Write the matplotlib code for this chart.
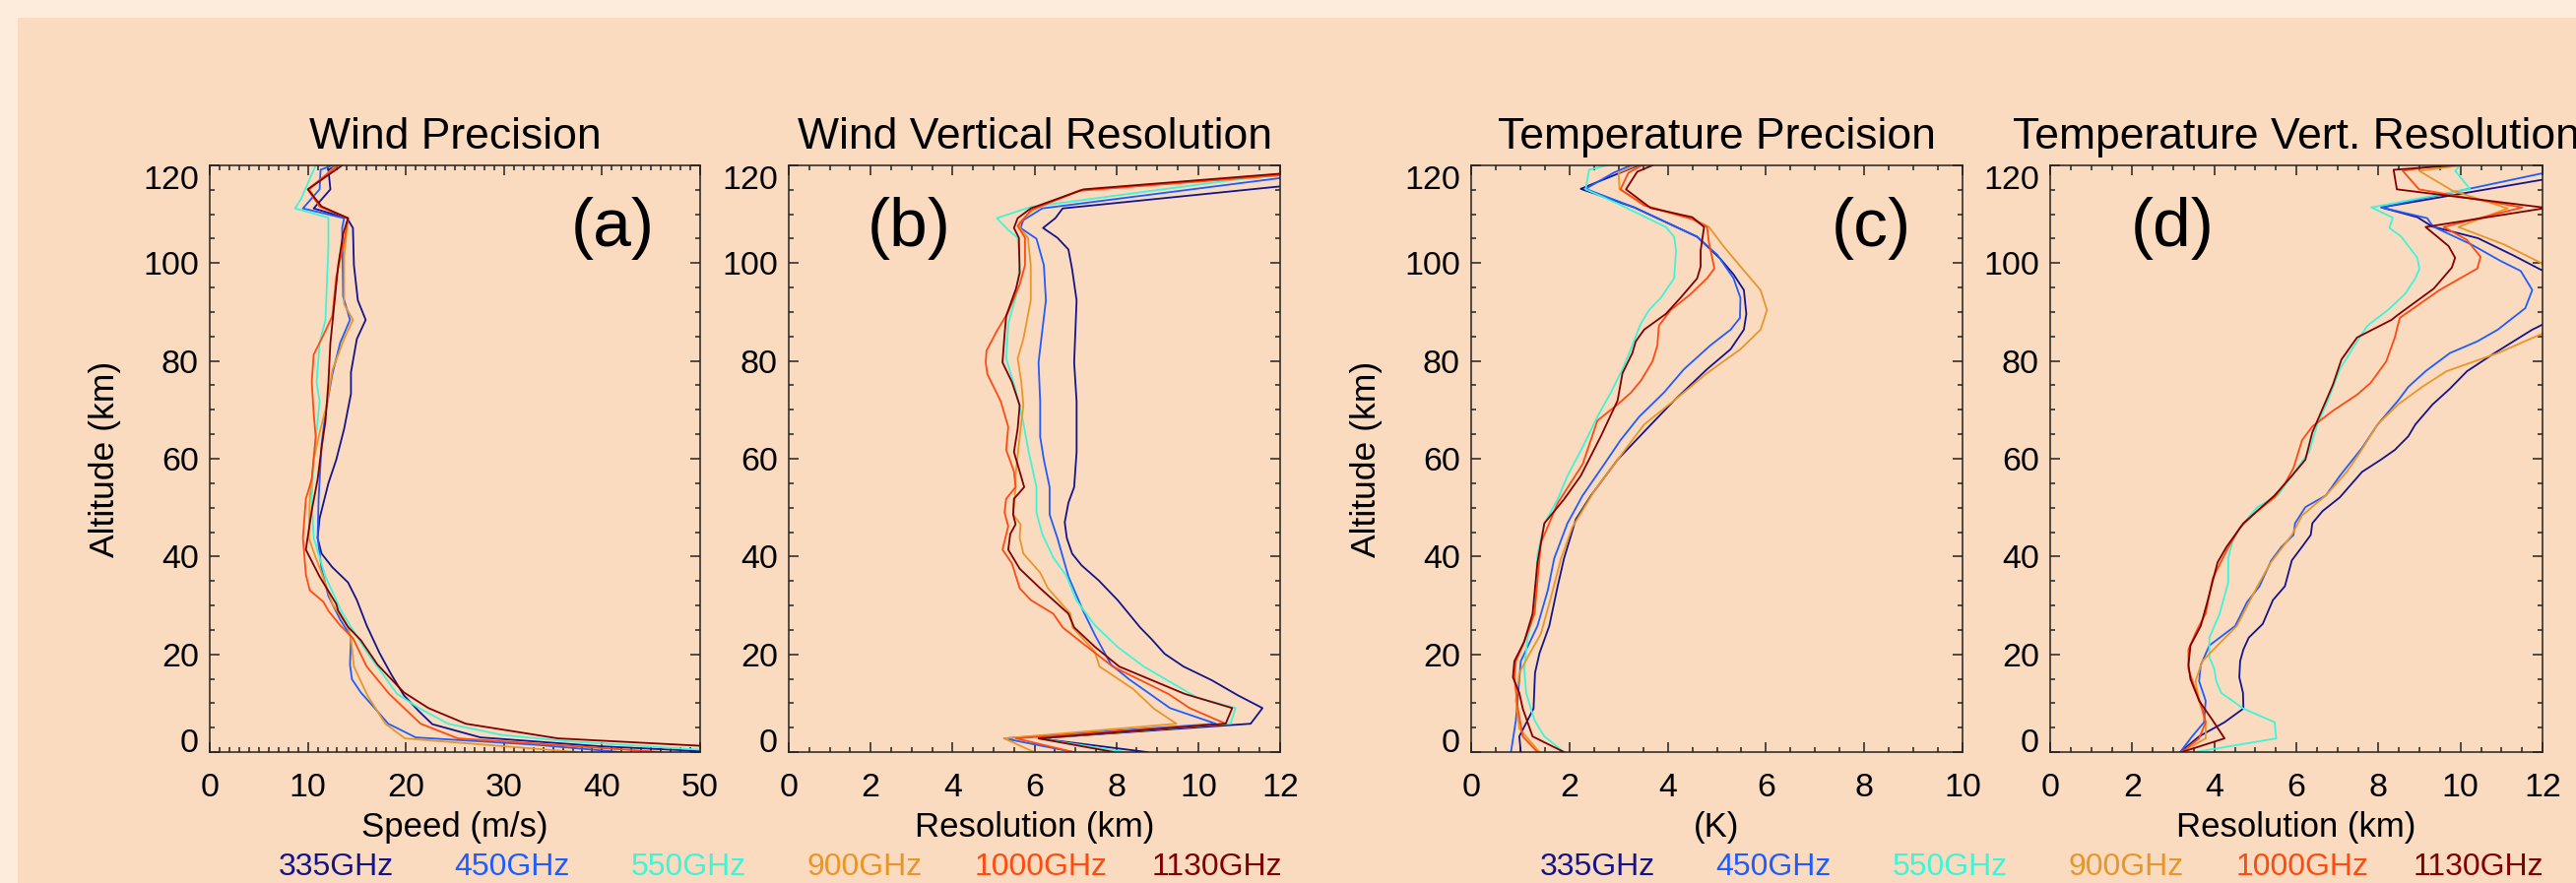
import matplotlib
matplotlib.use('Agg')
import matplotlib.pyplot as plt
from matplotlib.patches import Rectangle
from matplotlib.ticker import MultipleLocator

plt.rcParams['font.family'] = ['Liberation Sans', 'DejaVu Sans']

freqs = ['335GHz', '450GHz', '550GHz', '900GHz', '1000GHz', '1130GHz']
colors = ['#14148a', '#1f5cff', '#3ff5d8', '#e8962a', '#ff4a10', '#800000']

# (value, altitude km) pairs

# (a) wind precision, m/s
wp_335 = [(50, 0.2), (39.7, 1.2), (27.6, 3.0), (22.7, 5.7), (21.3, 8.4), (19.8, 11.6), (18.5, 15.9),
          (17.3, 20.3), (16.0, 25.9), (15.0, 31.1), (14.1, 34.7), (12.5, 37.8), (11.4, 40.6), (11.0, 43.8),
          (11.2, 47.8), (12.1, 55.0), (12.9, 59.8), (13.7, 66.1), (14.4, 73.3), (14.4, 77.7), (15.0, 84.5),
          (15.9, 88.4), (15.1, 92.4), (14.7, 99.6), (14.6, 107.2), (14.0, 109.2), (10.6, 111.2),
          (12.3, 115.1), (12.1, 119.1), (13.0, 120)]
wp_450 = [(41.9, 0), (33.2, 1.5), (21.0, 3.0), (18.2, 5.8), (16.9, 8.8), (15.4, 12.2), (14.5, 14.9),
          (14.3, 17.9), (14.4, 23.6), (13.3, 27.1), (12.1, 31.9), (11.4, 37.5), (11.0, 43.8), (11.1, 51.8),
          (11.4, 62.9), (11.8, 69.3), (12.5, 77.3), (13.3, 83.7), (14.3, 88.4), (13.6, 93.2), (13.5, 107.2),
          (13.7, 109.2), (9.5, 111.2), (11.2, 115.1), (11.3, 119.1), (12.5, 120)]
wp_550 = [(55, 0), (49.9, 0.5), (36.5, 2.2), (29.8, 3.5), (24.3, 5.8), (21.5, 8.8), (19.1, 11.9),
          (17.8, 15.5), (16.1, 20.2), (14.4, 25.6), (13.4, 28.9), (12.9, 31.1), (11.8, 35.9), (11.2, 39.8),
          (10.6, 43.8), (10.4, 51.8), (10.6, 59.8), (11.0, 67.7), (11.2, 71.7), (10.9, 75.7), (11.2, 83.7),
          (11.8, 88.4), (12.1, 103.6), (12.1, 109.3), (8.7, 111.2), (9.3, 113.1), (10.8, 120)]
wp_900 = [(37.5, 0), (19.9, 2.8), (17.9, 5.8), (16.1, 11.5), (14.7, 17.5), (14.4, 23.3), (14.1, 25.5),
          (12.5, 30.3), (11.4, 36.7), (10.8, 39.8), (10.1, 43.8), (10.2, 51.8), (10.6, 59.8), (11.2, 65.3),
          (12.0, 71.7), (12.5, 78.1), (13.7, 84.5), (14.6, 88.4), (13.7, 91.6), (13.7, 101.2), (14.1, 109.2),
          (11.2, 111.6), (10.2, 115.1), (12.9, 120)]
wp_1000 = [(46.1, 0), (25.3, 2.8), (21.5, 5.8), (18.3, 11.9), (16.0, 17.5), (14.6, 23.3), (13.3, 25.9),
           (12.1, 28.9), (11.6, 30.7), (10.2, 33.1), (9.8, 36.3), (9.5, 43.8), (9.8, 51.8), (10.4, 55.8),
           (10.8, 64.5), (10.6, 69.3), (10.4, 75.7), (10.6, 81.3), (11.6, 85.3), (12.5, 89.2), (12.9, 97.2),
           (13.7, 104.4), (14.1, 109.2), (11.2, 111.6), (10.0, 115.1), (13.1, 120)]
wp_1130 = [(60, 0), (49.9, 1.3), (35.5, 2.8), (26.1, 5.8), (22.3, 9.0), (19.8, 12.2), (17.1, 17.9),
           (15.4, 22.9), (14.1, 25.6), (13.1, 28.9), (12.9, 30.3), (11.2, 35.9), (9.8, 41.4), (10.4, 49.4),
           (11.0, 55.8), (11.4, 62.2), (11.8, 67.7), (12.1, 75.7), (12.3, 83.7), (12.7, 91.6), (13.1, 99.6),
           (13.6, 106.0), (14.1, 109.2), (11.4, 111.6), (10.0, 115.1), (13.5, 120)]

# (b) wind vertical resolution, km
wr_335 = [(8.75, 0), (6.1, 2.8), (11.28, 5.8), (11.57, 9.0), (10.97, 11.6), (10.33, 14.7), (9.64, 17.5),
          (9.18, 20.1), (8.86, 23.1), (8.58, 25.5), (8.03, 31.1), (7.57, 35.1), (7.15, 38.2), (6.92, 40.6),
          (6.79, 43.8), (6.74, 47.0), (6.83, 51.0), (6.97, 54.2), (7.03, 61.4), (7.03, 71.7), (6.97, 79.7),
          (7.03, 92.4), (6.92, 98.8), (6.83, 102.8), (6.56, 105.2), (6.21, 107.2), (6.51, 109.2),
          (6.69, 111.2), (12.0, 115.7), (13.0, 116.5)]
wr_450 = [(6.95, 0), (5.26, 2.8), (10.43, 5.8), (9.31, 9.0), (8.31, 14.9), (7.87, 17.9), (7.48, 23.9),
          (7.20, 28.7), (6.83, 35.9), (6.56, 43.8), (6.37, 48.6), (6.37, 54.2), (6.23, 59.8), (6.14, 64.5),
          (6.14, 71.7), (6.10, 79.7), (6.19, 86.1), (6.28, 92.4), (6.23, 99.6), (6.05, 105.0), (5.66, 107.2),
          (5.73, 108.8), (6.19, 111.2), (12.0, 117.4), (13.0, 118.4)]
wr_550 = [(8.23, 0), (6.1, 2.8), (10.79, 5.8), (10.91, 9.0), (9.96, 11.2), (8.67, 17.5), (8.03, 21.5),
          (7.48, 25.9), (7.02, 31.1), (6.79, 35.9), (6.46, 39.8), (6.19, 44.6), (6.05, 49.0), (6.05, 54.2),
          (5.86, 61.4), (5.72, 67.7), (5.54, 74.1), (5.31, 80.5), (5.36, 87.6), (5.55, 93.2), (5.64, 99.6),
          (5.59, 105.2), (5.36, 106.8), (5.08, 109.2), (5.91, 111.5), (12.0, 118.3), (13.0, 119.3)]
wr_900 = [(5.99, 0), (5.26, 2.8), (9.47, 5.8), (8.93, 8.8), (8.41, 12.9), (7.59, 17.5), (7.47, 20.6),
          (6.93, 25.5), (6.88, 28.3), (6.33, 33.5), (6.14, 36.7), (5.73, 40.6), (5.64, 43.8), (5.66, 46.6),
          (5.48, 48.6), (5.54, 54.2), (5.54, 56.6), (5.64, 64.5), (5.73, 70.9), (5.68, 75.7), (5.59, 80.5),
          (5.73, 84.5), (5.91, 92.4), (5.91, 99.6), (5.84, 105.2), (5.64, 107.2), (5.64, 108.4),
          (6.0, 111.2), (7.1, 114.9), (12.0, 118.0), (13.0, 119.0)]
wr_1000 = [(6.95, 0), (5.55, 2.8), (10.67, 5.8), (9.79, 9.0), (9.27, 11.9), (7.91, 17.5), (7.11, 22.7),
           (6.69, 25.5), (6.46, 28.3), (5.91, 31.1), (5.64, 33.5), (5.45, 38.6), (5.22, 41.4), (5.36, 46.2),
           (5.27, 49.0), (5.31, 51.8), (5.54, 54.2), (5.50, 57.4), (5.31, 61.8), (5.36, 66.5), (5.18, 71.7),
           (4.85, 77.3), (4.81, 79.7), (4.83, 82.1), (5.08, 86.1), (5.36, 90.0), (5.64, 95.6), (5.77, 99.6),
           (5.77, 105.2), (5.59, 107.6), (5.91, 110.8), (7.1, 114.8), (12.0, 118.0), (13.0, 119.0)]
wr_1130 = [(7.94, 0), (6.1, 2.8), (10.67, 5.8), (10.83, 9.0), (9.67, 11.9), (8.07, 17.5), (7.48, 21.5),
           (6.97, 25.5), (6.83, 28.3), (6.14, 33.5), (5.64, 37.5), (5.36, 41.4), (5.41, 44.6), (5.54, 46.6),
           (5.48, 48.6), (5.50, 51.8), (5.75, 54.2), (5.50, 61.4), (5.59, 66.1), (5.64, 70.9), (5.45, 75.7),
           (5.22, 79.7), (5.27, 85.3), (5.31, 89.2), (5.55, 94.8), (5.64, 98.0), (5.62, 105.2), (5.50, 107.2),
           (5.59, 109.2), (5.91, 111.2), (7.2, 115.1), (12.0, 118.3), (13.0, 119.3)]

# (c) temperature precision, K
tp_335 = [(1.01, 0), (0.98, 3.2), (1.27, 8.9), (1.30, 16.2), (1.39, 20.2), (1.59, 25.8), (1.76, 33.9),
          (1.89, 39.6), (2.13, 47.6), (2.44, 52.5), (2.98, 59.8), (3.66, 67.0), (4.13, 71.9), (4.80, 78.3),
          (5.28, 82.4), (5.55, 86.4), (5.60, 89.6), (5.55, 94.5), (5.34, 97.7), (5.07, 100.9), (4.60, 105.4),
          (3.32, 111.4), (2.23, 115.2), (3.4, 120)]
tp_450 = [(0.81, 0), (0.91, 6.5), (1.01, 18.6), (1.35, 25.8), (1.56, 33.1), (1.69, 39.6), (1.96, 46.8),
          (2.27, 52.5), (2.71, 58.9), (3.04, 63.8), (3.42, 68.6), (3.92, 73.5), (4.33, 78.3), (4.87, 83.2),
          (5.28, 86.4), (5.47, 88.8), (5.48, 92.9), (5.34, 96.9), (5.01, 101.7), (4.60, 105.4), (3.32, 111.4),
          (2.33, 115.2), (2.9, 118.5), (3.25, 120)]
tp_550 = [(1.89, 0), (1.49, 3.2), (1.29, 6.5), (1.12, 12.1), (1.08, 17.0), (1.15, 23.4), (1.29, 29.1),
          (1.35, 40.4), (1.49, 46.8), (1.76, 51.7), (1.96, 56.5), (2.30, 63.0), (2.57, 68.6), (2.84, 73.5),
          (3.08, 78.3), (3.28, 83.2), (3.45, 87.6), (3.62, 90.4), (3.86, 92.9), (4.13, 96.9), (4.17, 102.6),
          (4.13, 105.4), (3.96, 107.4), (2.98, 112.2), (2.33, 115.1), (2.40, 119.1), (2.77, 120)]
tp_900 = [(1.39, 0), (0.98, 4.8), (0.91, 10.5), (0.98, 16.2), (1.15, 19.4), (1.42, 24.2), (1.62, 31.5),
          (1.83, 39.6), (2.06, 46.0), (2.50, 53.3), (2.98, 59.8), (3.52, 67.0), (4.13, 71.9), (4.80, 77.5),
          (5.48, 82.4), (5.89, 86.4), (6.02, 90.4), (5.89, 94.5), (5.55, 98.5), (5.14, 103.4), (4.84, 107.4),
          (4.5, 109.2), (3.6, 111.6), (3.02, 115.1), (3.0, 118.5), (3.35, 120)]
tp_1000 = [(1.35, 0), (1.05, 3.2), (0.95, 8.9), (0.88, 15.3), (0.91, 18.6), (1.05, 21.8), (1.29, 28.3),
           (1.42, 42.8), (1.76, 50.9), (2.27, 58.9), (2.57, 67.8), (2.98, 71.1), (3.25, 73.5), (3.45, 75.9),
           (3.69, 79.9), (3.79, 83.2), (3.82, 87.2), (4.06, 90.4), (4.47, 93.7), (4.80, 96.9), (4.95, 98.9),
           (4.84, 104.2), (4.80, 107.4), (4.50, 109.0), (3.52, 111.8), (3.04, 115.1), (3.2, 118.5),
           (3.48, 120)]
tp_1130 = [(1.89, 0), (1.25, 3.2), (1.05, 8.9), (0.98, 12.1), (0.85, 15.3), (0.88, 18.6), (1.08, 22.6),
           (1.25, 28.3), (1.35, 38.8), (1.49, 46.8), (1.89, 51.7), (2.23, 56.5), (2.64, 64.6), (2.98, 71.9),
           (3.08, 77.5), (3.28, 81.6), (3.35, 84.0), (3.52, 86.4), (3.96, 89.6), (4.26, 92.9), (4.60, 96.9),
           (4.67, 99.3), (4.67, 102.6), (4.74, 107.4), (4.50, 109.4), (3.65, 111.3), (3.15, 115.1),
           (3.38, 118.7), (3.69, 120)]

# (d) temperature vertical resolution, km
tr_335 = [(3.17, 0), (3.63, 3.2), (4.25, 6.1), (4.71, 8.9), (4.70, 12.1), (4.61, 15.3), (4.63, 18.6),
          (4.71, 21.0), (4.84, 23.4), (5.18, 26.2), (5.43, 31.1), (5.72, 33.9), (5.89, 39.2), (6.14, 42.0),
          (6.35, 44.4), (6.39, 46.8), (6.64, 49.3), (7.06, 52.1), (7.60, 57.3), (8.06, 59.8), (8.40, 61.8),
          (8.73, 64.6), (8.90, 67.0), (9.32, 71.1), (9.74, 74.3), (10.16, 77.9), (10.83, 81.6),
          (11.75, 86.4), (12.5, 89.5), (13.0, 95.0), (11.95, 98.7), (11.31, 101.5), (10.43, 105.1),
          (9.31, 107.5), (8.95, 109.4), (8.07, 111.4), (11.95, 117.0), (13.0, 118.0)]
tr_450 = [(3.17, 0), (3.46, 3.2), (3.75, 6.1), (3.79, 10.5), (3.63, 14.5), (3.67, 17.8), (3.88, 21.8),
          (4.51, 25.8), (4.80, 30.7), (5.10, 33.9), (5.39, 39.2), (5.64, 42.0), (5.93, 44.4), (5.97, 46.8),
          (6.22, 50.1), (6.72, 52.5), (7.06, 56.5), (7.60, 62.2), (7.98, 67.0), (8.48, 71.9), (8.73, 74.7),
          (9.15, 77.9), (9.74, 81.6), (10.41, 84.0), (10.91, 86.4), (11.58, 90.8), (11.75, 94.5),
          (11.47, 98.4), (10.99, 100.4), (10.27, 103.8), (9.33, 107.5), (9.19, 109.2), (8.07, 111.4),
          (11.95, 118.3), (13.0, 119.5)]
tr_550 = [(3.54, 0), (5.51, 2.8), (5.47, 6.1), (4.71, 8.9), (4.17, 12.1), (4.05, 14.5), (4.00, 17.0),
          (3.88, 19.4), (3.88, 23.4), (4.13, 28.3), (4.34, 34.7), (4.34, 39.6), (4.46, 43.6), (4.71, 46.8),
          (5.05, 50.1), (5.55, 52.5), (5.89, 56.5), (6.31, 61.4), (6.51, 67.0), (6.77, 71.9), (7.06, 78.3),
          (7.48, 84.0), (7.73, 87.2), (8.23, 90.4), (8.65, 93.7), (8.90, 96.9), (9.0, 98.8), (8.95, 101.1),
          (8.55, 105.5), (8.27, 107.2), (8.35, 109.3), (7.83, 111.4), (10.23, 115.2), (9.87, 118.9),
          (9.99, 120)]
tr_900 = [(3.21, 0), (3.79, 2.8), (3.79, 6.1), (3.63, 10.5), (3.54, 14.5), (3.71, 18.6), (4.1, 22.0),
          (4.55, 25.8), (5.05, 33.9), (5.38, 38.8), (5.89, 44.4), (6.14, 48.4), (6.72, 52.5), (7.23, 57.3),
          (7.56, 61.4), (7.98, 67.0), (8.48, 71.1), (9.07, 74.7), (9.66, 77.9), (10.91, 81.6), (12.0, 85.6),
          (13.0, 92.0), (11.95, 100.1), (11.07, 103.8), (9.95, 107.4), (11.15, 111.2), (9.79, 114.9),
          (8.99, 118.9), (9.95, 119.9)]
tr_1000 = [(3.21, 0), (3.63, 2.8), (3.79, 6.1), (3.71, 8.9), (3.50, 13.7), (3.37, 17.0), (3.37, 21.0),
           (3.58, 25.0), (3.79, 28.3), (3.96, 35.5), (4.30, 41.2), (4.63, 46.0), (5.05, 49.3), (5.47, 52.1),
           (5.72, 54.9), (5.93, 58.1), (6.14, 63.8), (6.39, 66.6), (6.89, 69.8), (7.48, 73.1), (7.81, 75.5),
           (8.19, 79.9), (8.40, 84.8), (8.52, 88.8), (9.49, 94.5), (10.41, 98.9), (10.49, 101.3),
           (10.15, 104.8), (9.59, 107.4), (11.51, 111.4), (8.99, 115.1), (8.59, 118.9), (9.5, 120)]
tr_1130 = [(3.21, 0), (4.25, 2.8), (3.96, 6.5), (3.63, 10.5), (3.42, 14.9), (3.37, 17.8), (3.42, 21.8),
           (3.67, 25.8), (3.83, 30.7), (4.08, 38.8), (4.30, 42.0), (4.71, 46.8), (5.47, 52.5), (5.89, 56.5),
           (6.22, 59.8), (6.39, 65.4), (6.89, 75.1), (7.10, 80.3), (7.48, 84.8), (8.32, 88.4), (8.47, 89.4),
           (9.35, 94.8), (9.79, 99.1), (9.87, 101.1), (9.71, 103.5), (9.15, 107.4), (12.1, 111.3),
           (8.45, 115.1), (8.37, 119.1), (10.31, 120.3)]

panels = [
    dict(series=[wp_335, wp_450, wp_550, wp_900, wp_1000, wp_1130], xmax=50, major=10, minor=1,
         title='Wind Precision', xlabel='Speed (m/s)', tag='(a)', tagx=0.821, ylab=True,
         left=213, width=498),
    dict(series=[wr_335, wr_450, wr_550, wr_900, wr_1000, wr_1130], xmax=12, major=2, minor=0.5,
         title='Wind Vertical Resolution', xlabel='Resolution (km)', tag='(b)', tagx=0.245, ylab=False,
         left=801, width=499),
    dict(series=[tp_335, tp_450, tp_550, tp_900, tp_1000, tp_1130], xmax=10, major=2, minor=0.5,
         title='Temperature Precision', xlabel='(K)', tag='(c)', tagx=0.814, ylab=True,
         left=1494, width=499),
    dict(series=[tr_335, tr_450, tr_550, tr_900, tr_1000, tr_1130], xmax=12, major=2, minor=0.5,
         title='Temperature Vert. Resolution', xlabel='Resolution (km)', tag='(d)', tagx=0.248, ylab=False,
         left=2082, width=500),
]

W, H = 2616, 897
outer = '#fdebdc'
inner = '#fadbc0'

fig = plt.figure(figsize=(W / 100, H / 100), dpi=100)
fig.patch.set_facecolor(outer)
fig.add_artist(Rectangle((18 / W, 0), 1, 1 - 18 / H, transform=fig.transFigure,
                         facecolor=inner, edgecolor='none', zorder=-10))

top, bot = 168, 764
for p in panels:
    ax = fig.add_axes([p['left'] / W, 1 - bot / H, p['width'] / W, (bot - top) / H])
    ax.set_facecolor(inner)
    for s, c in zip(p['series'], colors):
        xs = [v[0] for v in s]
        zs = [v[1] for v in s]
        ax.plot(xs, zs, color=c, lw=1.3)
    ax.set_xlim(0, p['xmax'])
    ax.set_ylim(0, 120)
    ax.xaxis.set_major_locator(MultipleLocator(p['major']))
    ax.xaxis.set_minor_locator(MultipleLocator(p['minor']))
    ax.set_yticks(range(0, 121, 20))
    ax.yaxis.set_minor_locator(MultipleLocator(5))
    ax.tick_params(which='both', direction='in', top=True, right=True, width=1.1, color='#222222')
    ax.tick_params(which='major', length=7.5, labelsize=24.5)
    ax.tick_params(which='minor', length=3.8)
    ax.tick_params(axis='x', which='major', pad=15)
    ax.tick_params(axis='y', which='major', pad=8)
    # end labels sit just inside the axis range, as in the original
    yt = ax.yaxis.get_major_ticks()
    yt[0].label1.set_verticalalignment('baseline')
    yt[-1].label1.set_verticalalignment('top')
    for sp in ax.spines.values():
        sp.set_linewidth(1.1)
        sp.set_color('#222222')
    ax.set_title(p['title'], fontsize=32, pad=12)
    ax.set_xlabel(p['xlabel'], fontsize=25, labelpad=6)
    if p['ylab']:
        ax.set_ylabel('Altitude (km)', fontsize=25.5, labelpad=16)
    ax.text(p['tagx'], 0.893, p['tag'], transform=ax.transAxes, ha='center', va='center', fontsize=50)

# colour key under each pair of panels
for x0 in [341, 1622]:
    for i, (f, c) in enumerate(zip(freqs, colors)):
        fig.text((x0 + 179 * i) / W, 1 - 881 / H, f, color=c, fontsize=23, ha='center', va='center')

fig.savefig('out.png', dpi=100, facecolor=fig.get_facecolor())
